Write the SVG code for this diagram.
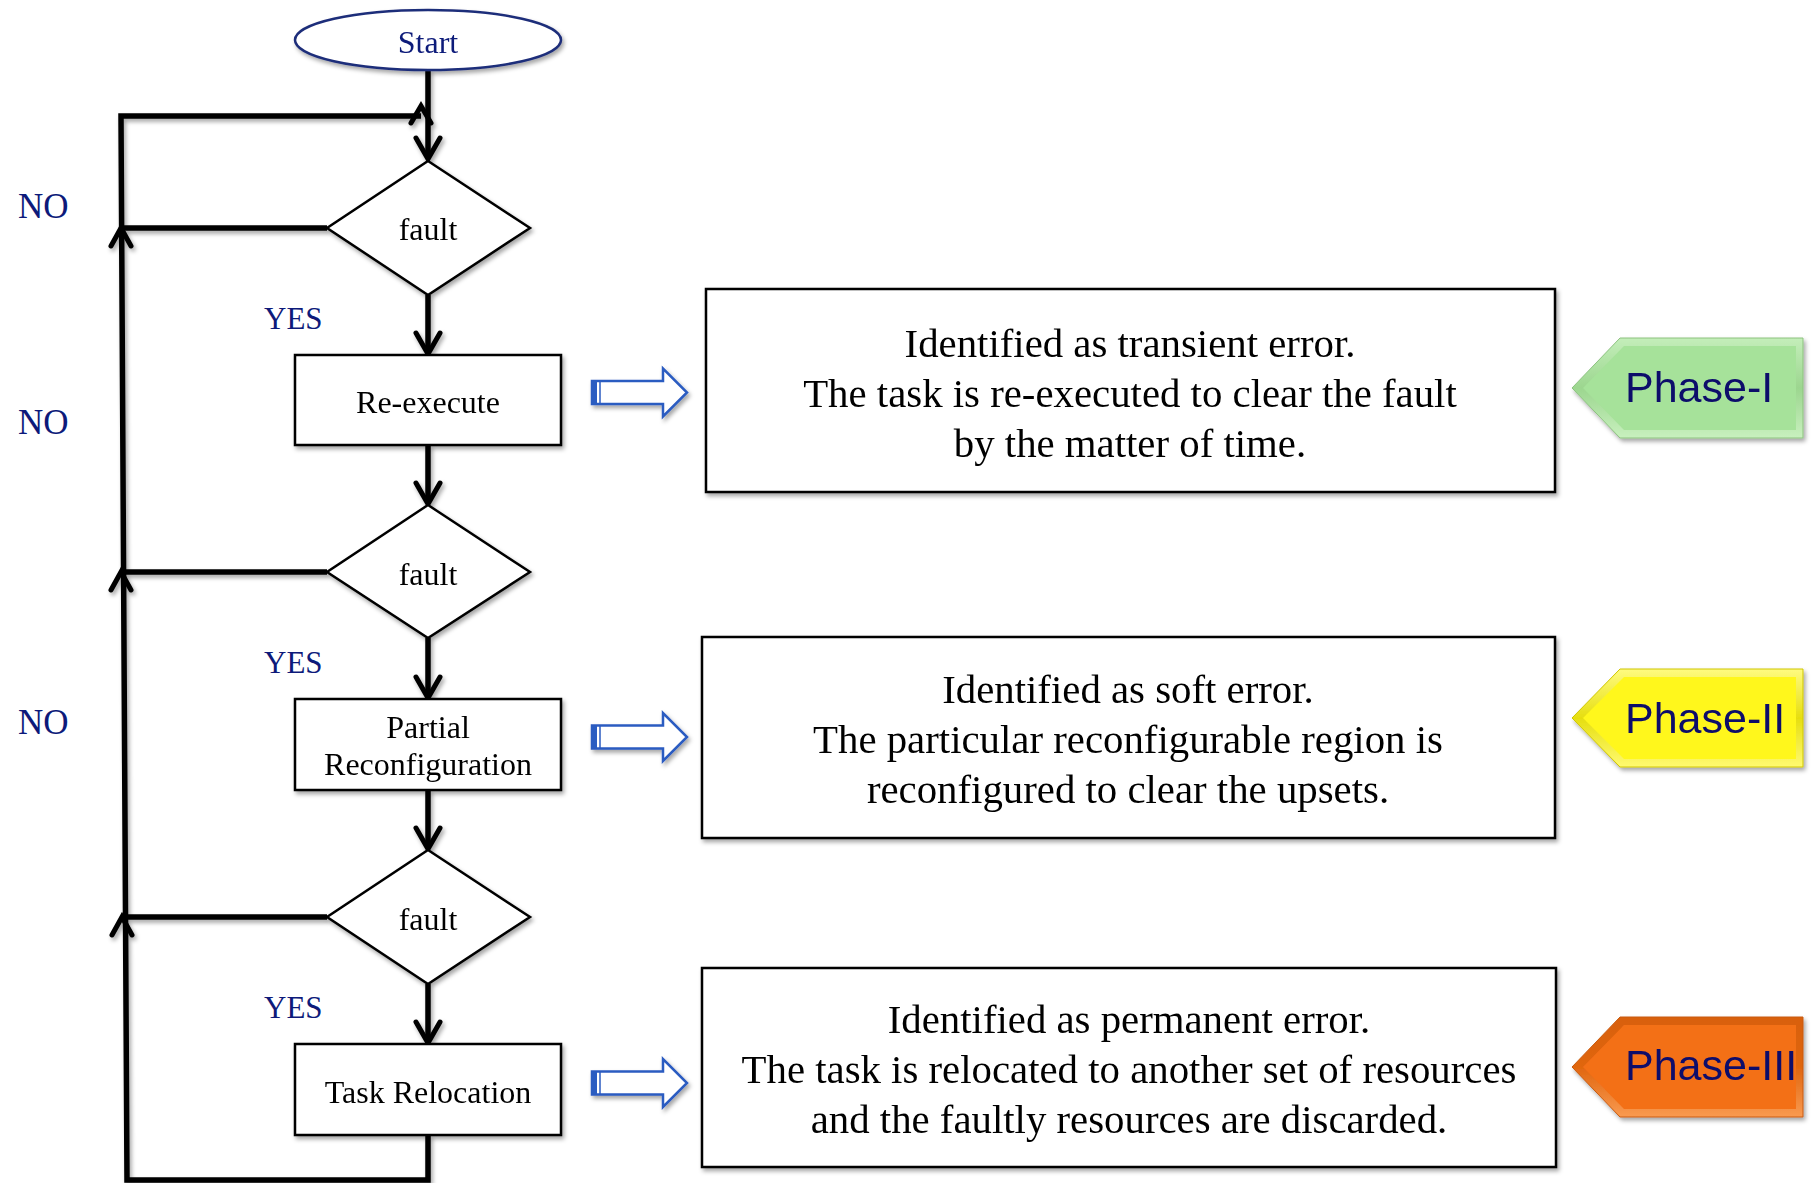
<svg xmlns="http://www.w3.org/2000/svg" width="1811" height="1183" viewBox="0 0 1811 1183">
  <style>
    .node-shape { fill: #ffffff; stroke: #000000; stroke-width: 2.5; }
    .node-text { font-family: "Liberation Serif", "Times New Roman", serif; font-size: 32px; fill: #000000; text-anchor: middle; }
    .label { font-family: "Liberation Serif", "Times New Roman", serif; fill: #0D1A7A; }
    .no { font-size: 35px; }
    .yes { font-size: 31px; }
    .edge { fill: none; stroke: #000000; stroke-width: 5.5; stroke-linejoin: miter; }
    .head { fill: none; stroke: #000000; stroke-width: 5; stroke-linecap: round; stroke-linejoin: miter; }
    .desc { font-family: "Liberation Serif", "Times New Roman", serif; font-size: 40.8px; fill: #000000; text-anchor: middle; }
    .hollow { fill: #ffffff; stroke: #2C5BC1; stroke-width: 2.5; }
    .phase-text { font-family: "Liberation Sans", Arial, sans-serif; font-size: 43px; fill: #0B0B6B; }
  </style>
  <defs>
    <filter id="shadow" x="-10%" y="-10%" width="130%" height="130%">
      <feDropShadow dx="2" dy="3" stdDeviation="2" flood-color="#000000" flood-opacity="0.35"/>
    </filter>
    <linearGradient id="bevelGreen" x1="0" y1="0" x2="0" y2="1">
      <stop offset="0" stop-color="#C4EEBA"/>
      <stop offset="0.5" stop-color="#9CD68F"/>
      <stop offset="1" stop-color="#C8F0BE"/>
    </linearGradient>
    <linearGradient id="bevelYellow" x1="0" y1="0" x2="0" y2="1">
      <stop offset="0" stop-color="#FFFB80"/>
      <stop offset="0.5" stop-color="#E6DE10"/>
      <stop offset="1" stop-color="#FFFA70"/>
    </linearGradient>
    <linearGradient id="bevelOrange" x1="0" y1="0" x2="0" y2="1">
      <stop offset="0" stop-color="#D8600E"/>
      <stop offset="0.5" stop-color="#E0660F"/>
      <stop offset="1" stop-color="#F99A50"/>
    </linearGradient>
  </defs>

  <!-- connectors -->
  <g id="connectors" filter="url(#shadow)">
    <!-- main spine -->
    <line class="edge" x1="428" y1="70" x2="428" y2="158"/>
    <line class="edge" x1="428" y1="295" x2="428" y2="353"/>
    <line class="edge" x1="428" y1="445" x2="428" y2="503"/>
    <line class="edge" x1="428" y1="638" x2="428" y2="697"/>
    <line class="edge" x1="428" y1="790" x2="428" y2="848"/>
    <line class="edge" x1="428" y1="984" x2="428" y2="1042"/>
    <!-- return loop -->
    <polyline class="edge" points="428,1135 428,1180 127,1180 121,116 421,116"/>
    <!-- NO branches -->
    <line class="edge" x1="327" y1="228" x2="121" y2="228"/>
    <line class="edge" x1="327" y1="572" x2="121" y2="572"/>
    <line class="edge" x1="327" y1="917" x2="122" y2="917"/>
    <!-- downward arrowheads -->
    <polyline class="head" points="416,138 428,159 440,138"/>
    <polyline class="head" points="416,333 428,354 440,333"/>
    <polyline class="head" points="416,483 428,504 440,483"/>
    <polyline class="head" points="416,677 428,698 440,677"/>
    <polyline class="head" points="416,828 428,849 440,828"/>
    <polyline class="head" points="416,1022 428,1043 440,1022"/>
    <!-- upward arrowheads on the loop -->
    <polyline class="head" points="111,246 121,228 131,246"/>
    <polyline class="head" points="111,590 121,572 131,590"/>
    <polyline class="head" points="112,935 122,917 132,935"/>
    <polyline class="head" points="411,123 421,106 431,123"/>
  </g>

  <!-- flowchart nodes -->
  <g id="start" filter="url(#shadow)">
    <ellipse cx="428" cy="40" rx="133" ry="30" fill="#ffffff" stroke="#1F2D7A" stroke-width="2.5"/>
    <text class="node-text" x="428" y="53" style="fill:#0D1A7A">Start</text>
  </g>
  <g id="fault1" filter="url(#shadow)">
    <polygon class="node-shape" points="428,161 530,228 428,295 327,228"/>
    <text class="node-text" x="428" y="240">fault</text>
  </g>
  <g id="reexecute" filter="url(#shadow)">
    <rect class="node-shape" x="295" y="355" width="266" height="90"/>
    <text class="node-text" x="428" y="413">Re-execute</text>
  </g>
  <g id="fault2" filter="url(#shadow)">
    <polygon class="node-shape" points="428,505 530,572 428,638 327,572"/>
    <text class="node-text" x="428" y="585">fault</text>
  </g>
  <g id="partial" filter="url(#shadow)">
    <rect class="node-shape" x="295" y="699" width="266" height="91"/>
    <text class="node-text" x="428" y="738">Partial</text>
    <text class="node-text" x="428" y="775">Reconfiguration</text>
  </g>
  <g id="fault3" filter="url(#shadow)">
    <polygon class="node-shape" points="428,850 530,917 428,984 327,917"/>
    <text class="node-text" x="428" y="930">fault</text>
  </g>
  <g id="relocation" filter="url(#shadow)">
    <rect class="node-shape" x="295" y="1044" width="266" height="91"/>
    <text class="node-text" x="428" y="1103">Task Relocation</text>
  </g>

  <!-- branch labels -->
  <g id="branch-labels">
    <text class="label no" x="18" y="218">NO</text>
    <text class="label no" x="18" y="434">NO</text>
    <text class="label no" x="18" y="734">NO</text>
    <text class="label yes" x="264" y="329">YES</text>
    <text class="label yes" x="264" y="673">YES</text>
    <text class="label yes" x="264" y="1018">YES</text>
  </g>

  <!-- hollow block arrows -->
  <g id="pointer1" filter="url(#shadow)" transform="translate(592,392.5)">
    <path class="hollow" d="M0,-11.5 H71 V-24 L95,0 L71,24 V11.5 H0 Z"/>
    <rect x="0" y="-11.5" width="5" height="23" fill="#2C5BC1"/>
    <line x1="8" y1="-11.5" x2="8" y2="11.5" stroke="#2C5BC1" stroke-width="1.5"/>
  </g>
  <g id="pointer2" filter="url(#shadow)" transform="translate(592,737)">
    <path class="hollow" d="M0,-11.5 H71 V-24 L95,0 L71,24 V11.5 H0 Z"/>
    <rect x="0" y="-11.5" width="5" height="23" fill="#2C5BC1"/>
    <line x1="8" y1="-11.5" x2="8" y2="11.5" stroke="#2C5BC1" stroke-width="1.5"/>
  </g>
  <g id="pointer3" filter="url(#shadow)" transform="translate(592,1083)">
    <path class="hollow" d="M0,-11.5 H71 V-24 L95,0 L71,24 V11.5 H0 Z"/>
    <rect x="0" y="-11.5" width="5" height="23" fill="#2C5BC1"/>
    <line x1="8" y1="-11.5" x2="8" y2="11.5" stroke="#2C5BC1" stroke-width="1.5"/>
  </g>

  <!-- description boxes -->
  <g id="desc1" filter="url(#shadow)">
    <rect class="node-shape" x="706" y="289" width="849" height="203"/>
    <text class="desc" x="1130" y="357">Identified as transient error.</text>
    <text class="desc" x="1130" y="407">The task is re-executed to clear the fault</text>
    <text class="desc" x="1130" y="457">by the matter of time.</text>
  </g>
  <g id="desc2" filter="url(#shadow)">
    <rect class="node-shape" x="702" y="637" width="853" height="201"/>
    <text class="desc" x="1128" y="703">Identified as soft error.</text>
    <text class="desc" x="1128" y="753">The particular reconfigurable region is</text>
    <text class="desc" x="1128" y="803">reconfigured to clear the upsets.</text>
  </g>
  <g id="desc3" filter="url(#shadow)">
    <rect class="node-shape" x="702" y="968" width="854" height="199"/>
    <text class="desc" x="1129" y="1033">Identified as permanent error.</text>
    <text class="desc" x="1129" y="1083">The task is relocated to another set of resources</text>
    <text class="desc" x="1129" y="1133">and the faultly resources are discarded.</text>
  </g>

  <!-- phase tags -->
  <g id="phase1" filter="url(#shadow)">
    <polygon points="1572,388 1620,338 1803,338 1803,438 1620,438" fill="url(#bevelGreen)" stroke="#8CC27F" stroke-width="1"/>
    <polygon points="1583,388 1624,346 1796,346 1796,430 1624,430" fill="#A6E29A"/>
    <text class="phase-text" x="1625" y="402">Phase-I</text>
  </g>
  <g id="phase2" filter="url(#shadow)">
    <polygon points="1572,718 1620,669 1803,669 1803,767 1620,767" fill="url(#bevelYellow)" stroke="#CFC600" stroke-width="1"/>
    <polygon points="1583,718 1624,677 1796,677 1796,759 1624,759" fill="#FFF71E"/>
    <text class="phase-text" x="1625" y="733">Phase-II</text>
  </g>
  <g id="phase3" filter="url(#shadow)">
    <polygon points="1572,1067 1620,1017 1803,1017 1803,1117 1620,1117" fill="url(#bevelOrange)" stroke="#C85A10" stroke-width="1"/>
    <polygon points="1583,1067 1624,1025 1796,1025 1796,1109 1624,1109" fill="#F36F18"/>
    <text class="phase-text" x="1625" y="1080">Phase-III</text>
  </g>
</svg>
